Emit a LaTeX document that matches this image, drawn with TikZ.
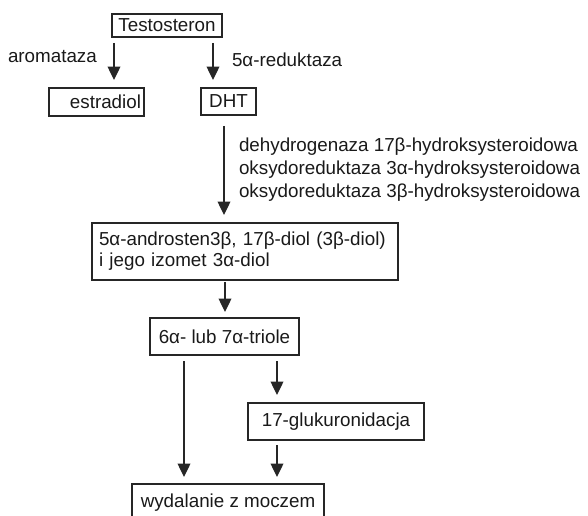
\documentclass[tikz,border=0pt]{standalone}
\usepackage{fontspec}
\setmainfont{Liberation Sans}
\usepackage{tikz}
\usetikzlibrary{arrows.meta}

\begin{document}
\begin{tikzpicture}[x=0.75pt,y=-0.75pt]
% Style
\tikzstyle{strzalka}=[-{Triangle[length=10pt,width=9.5pt]},line width=1pt,draw=black!85]
\tikzstyle{pudelko}=[draw=black!85,line width=1pt,inner sep=0pt,outer sep=0pt,text=black!90,font=\fontsize{14.1}{16}\selectfont]
\tikzstyle{opis}=[inner sep=0pt,outer sep=0pt,text=black!90,font=\fontsize{14.1}{16}\selectfont]
% Wymiary
\def\px{0.75pt}
\useasboundingbox (0,0) rectangle (588,516);
% Wezly
\node[pudelko,minimum width=110*\px,minimum height=23*\px] (tst) at (167,25.5) {Testosteron};
\node[pudelko,minimum width=95*\px,minimum height=28*\px,text width=89*\px,align=right,inner xsep=3*\px] (est) at (96.5,102) {estradiol};
\node[pudelko,minimum width=55*\px,minimum height=27*\px] (dht) at (228.5,101.5) {DHT};
\node[pudelko,minimum width=306*\px,minimum height=57*\px,text width=292*\px,align=left,inner xsep=7*\px,
  font=\fontsize{14.1}{15.8}\selectfont] (diol) at (245,251.5)
  {5α-androsten3β, 17β-diol (3β-diol)\\i jego izomet 3α-diol};
\node[pudelko,minimum width=149*\px,minimum height=37*\px] (tri) at (224.5,336.5) {6α- lub 7α-triole};
\node[pudelko,minimum width=176*\px,minimum height=37*\px] (glu) at (336,421.5) {17-glukuronidacja};
\node[pudelko,minimum width=192*\px,minimum height=37*\px] (wyd) at (228,502.5) {wydalanie z moczem};
% Opisy
\node[opis,anchor=west] (arom) at (8,57) {aromataza};
\node[opis,anchor=west] (red) at (232,60) {5α-reduktaza};
\node[opis,anchor=west,align=left,font=\fontsize{14.1}{17.2}\selectfont] (enz) at (239,170)
  {dehydrogenaza 17β-hydroksysteroidowa\\oksydoreduktaza 3α-hydroksysteroidowa\\oksydoreduktaza 3β-hydroksysteroidowa};
% Strzalki
\draw[strzalka] ([shift={(2,6)}]tst.south west) -- ([shift={(65,-8)}]est.north west);
\draw[strzalka] ([shift={(-9,6)}]tst.south east) -- ([shift={(12,-8)}]dht.north west);
\draw[strzalka] ([shift={(-4.5,11)}]dht.south) -- ([shift={(-21,-8)}]diol.north);
\draw[strzalka] ([shift={(-20,2)}]diol.south) -- ([shift={(0.5,-6)}]tri.north);
\draw[strzalka] ([shift={(34,6)}]tri.south west) -- ([shift={(52,-7)}]wyd.north west);
\draw[strzalka] ([shift={(-22,6)}]tri.south east) -- ([shift={(29,-8)}]glu.north west);
\draw[strzalka] ([shift={(29,5)}]glu.south west) -- ([shift={(-47,-7)}]wyd.north east);
\end{tikzpicture}
\end{document}
